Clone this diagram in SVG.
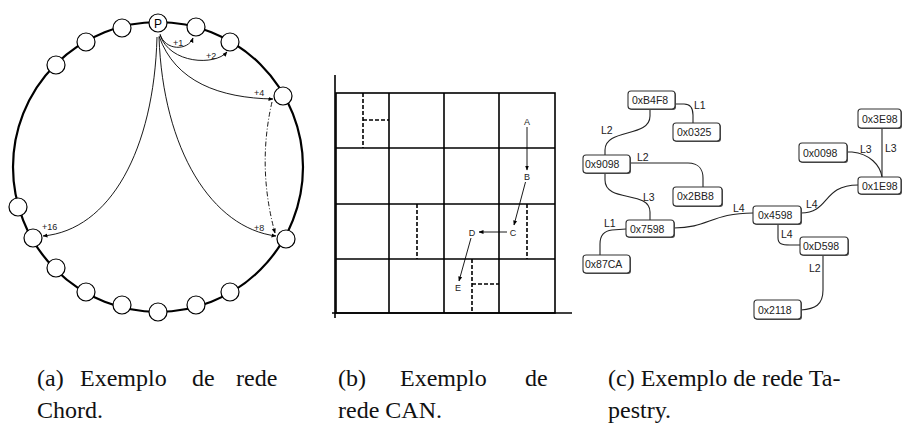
<svg xmlns="http://www.w3.org/2000/svg" width="902" height="423" viewBox="0 0 902 423">
<style>
.ring{fill:none;stroke:#000;stroke-width:2.2}
.nd{fill:#fff;stroke:#000;stroke-width:1.2}
.ar{fill:none;stroke:#000;stroke-width:0.9}
.sm{font-family:"Liberation Sans",Arial,sans-serif;font-size:9px;fill:#222}
.grid{fill:none;stroke:#000;stroke-width:1.6}
.dash{fill:none;stroke:#000;stroke-width:1.6;stroke-dasharray:4,2}
.bx{fill:#fff;stroke:#333;stroke-width:1.1}
.sh{fill:#555}
.bt{font-family:"Liberation Sans",Arial,sans-serif;font-size:10.5px;fill:#222}
.cn{fill:none;stroke:#222;stroke-width:1.1}
.cap{font-family:"Liberation Serif","Times New Roman",serif;font-size:24px;fill:#111}
</style>
<defs>
<marker id="ah" viewBox="0 0 10 10" refX="9" refY="5" markerWidth="5" markerHeight="5" orient="auto" markerUnits="userSpaceOnUse">
<path d="M0,1 L10,5 L0,9 z" fill="#000"/>
</marker>
</defs>
<rect width="902" height="423" fill="#fff"/>

<!-- (a) Chord -->
<g id="chord">
<circle class="ring" cx="158" cy="167" r="145"/>
<g id="connectors-chord">
<path class="ar" d="M160,34 C165,51 188,51 193,38" marker-end="url(#ah)"/>
<path class="ar" d="M160,35 C170,64 215,66 227,52" marker-end="url(#ah)"/>
<path class="ar" d="M159,36 C175,82 220,98 273,99" marker-end="url(#ah)"/>
<path class="ar" d="M159,37 C163,150 212,228 276,236" marker-end="url(#ah)"/>
<path class="ar" d="M157,37 C154,150 110,230 43,236" marker-end="url(#ah)"/>
<path class="ar" d="M272,102 Q257,167 275,233" stroke-dasharray="5,2,1,2" marker-end="url(#ah)"/>
</g>
<g id="n0"><circle class="nd" cx="158" cy="23" r="9"/><text x="158" y="27.5" text-anchor="middle" font-family="Liberation Sans,Arial,sans-serif" font-size="12">P</text></g>
<g id="n15"><circle class="nd" cx="196" cy="27" r="9"/></g>
<g id="n30"><circle class="nd" cx="230" cy="42" r="9"/></g>
<g id="n60"><circle class="nd" cx="283" cy="96" r="9"/></g>
<g id="n120"><circle class="nd" cx="286" cy="239" r="9"/></g>
<g id="n150"><circle class="nd" cx="230" cy="292" r="9"/></g>
<g id="n165"><circle class="nd" cx="196" cy="305" r="9"/></g>
<g id="n180"><circle class="nd" cx="158" cy="312" r="9"/></g>
<g id="n195"><circle class="nd" cx="122" cy="305" r="9"/></g>
<g id="n210"><circle class="nd" cx="86" cy="292" r="9"/></g>
<g id="n225"><circle class="nd" cx="56" cy="268" r="9"/></g>
<g id="n240"><circle class="nd" cx="33" cy="238" r="9"/></g>
<g id="n255"><circle class="nd" cx="18" cy="207" r="9"/></g>
<g id="n315"><circle class="nd" cx="56" cy="65" r="9"/></g>
<g id="n330"><circle class="nd" cx="86" cy="42" r="9"/></g>
<g id="n345"><circle class="nd" cx="122" cy="28" r="9"/></g>
<text class="sm" x="173" y="46">+1</text>
<text class="sm" x="206" y="59">+2</text>
<text class="sm" x="254" y="96">+4</text>
<text class="sm" x="254" y="231">+8</text>
<text class="sm" x="42" y="230">+16</text>
</g>

<!-- (b) CAN -->
<g id="can">
<line class="grid" x1="335" y1="75" x2="335" y2="318" stroke-width="1.3"/>
<line class="grid" x1="332" y1="313" x2="572" y2="313" stroke-width="1.3"/>
<rect class="grid" x="336" y="93" width="219" height="220"/>
<line class="grid" x1="389" y1="93" x2="389" y2="313"/>
<line class="grid" x1="444" y1="93" x2="444" y2="313"/>
<line class="grid" x1="499" y1="93" x2="499" y2="313"/>
<line class="grid" x1="336" y1="148" x2="555" y2="148"/>
<line class="grid" x1="336" y1="204" x2="555" y2="204"/>
<line class="grid" x1="336" y1="259" x2="555" y2="259"/>
<path class="dash" d="M363,93 V148 M363,120 H389"/>
<path class="dash" d="M417,204 V259"/>
<path class="dash" d="M527,204 V259"/>
<path class="dash" d="M472,259 V313 M472,284 H499"/>
<g id="connectors-can">
<line class="ar" x1="527" y1="127" x2="527" y2="170" marker-end="url(#ah)"/>
<line class="ar" x1="525.5" y1="182" x2="514" y2="225" marker-end="url(#ah)"/>
<line class="ar" x1="507" y1="232" x2="479" y2="232" marker-end="url(#ah)"/>
<line class="ar" x1="471" y1="238" x2="459" y2="281" marker-end="url(#ah)"/>
</g>
<g id="cA"><text class="sm" x="527" y="125" text-anchor="middle">A</text></g>
<g id="cB"><text class="sm" x="527" y="180" text-anchor="middle">B</text></g>
<g id="cC"><text class="sm" x="513" y="235.5" text-anchor="middle">C</text></g>
<g id="cD"><text class="sm" x="472" y="235.5" text-anchor="middle">D</text></g>
<g id="cE"><text class="sm" x="458" y="291" text-anchor="middle">E</text></g>
</g>

<!-- (c) Tapestry -->
<g id="tapestry">
<g id="connectors-tap">
<path class="cn" d="M675,104 L684,104 C690,104 693,108 693,115 L693,123"/>
<path class="cn" d="M650,110 L650,116 C650,138 605,128 605,150 L605,155"/>
<path class="cn" d="M630,163 L688,163 C699,163 703,170 703,178 L703,187"/>
<path class="cn" d="M605,173 L605,180 C605,203 650,190 650,212 L650,220"/>
<path class="cn" d="M626,229 L612,230 C603,231 600,236 600,244 L600,255"/>
<path class="cn" d="M674,228 C708,228 712,213 753,213"/>
<path class="cn" d="M801,213 C830,213 822,185 858,185"/>
<path class="cn" d="M778,224 L778,238 C778,244 782,245 790,245 L800,245"/>
<path class="cn" d="M823,255 L823,290 C823,305 815,309 801,310"/>
<path class="cn" d="M847,152 L852,152 C870,154 880,165 882,177"/>
<path class="cn" d="M882,128 L882,177"/>
</g>
<text class="bt" x="694" y="109">L1</text>
<text class="bt" x="601" y="134">L2</text>
<text class="bt" x="637" y="161">L2</text>
<text class="bt" x="643" y="201">L3</text>
<text class="bt" x="604" y="227">L1</text>
<text class="bt" x="733" y="212">L4</text>
<text class="bt" x="806" y="208">L4</text>
<text class="bt" x="781" y="238">L4</text>
<text class="bt" x="809" y="272">L2</text>
<text class="bt" x="860" y="153">L3</text>
<text class="bt" x="885" y="152">L3</text>
<g id="tB4F8"><rect class="sh" x="629" y="92" width="47" height="18" rx="3"/><rect class="bx" x="628" y="91" width="47" height="18" rx="3"/><text class="bt" x="632" y="104">0xB4F8</text></g>
<g id="t0325"><rect class="sh" x="674" y="124" width="47" height="18" rx="3"/><rect class="bx" x="673" y="123" width="47" height="18" rx="3"/><text class="bt" x="677" y="136">0x0325</text></g>
<g id="t9098"><rect class="sh" x="584" y="156" width="47" height="18" rx="3"/><rect class="bx" x="583" y="155" width="47" height="18" rx="3"/><text class="bt" x="585" y="168">0x9098</text></g>
<g id="t2BB8"><rect class="sh" x="674" y="188" width="49" height="19" rx="3"/><rect class="bx" x="673" y="187" width="49" height="19" rx="3"/><text class="bt" x="677" y="200">0x2BB8</text></g>
<g id="t7598"><rect class="sh" x="627" y="221" width="48" height="17" rx="3"/><rect class="bx" x="626" y="220" width="48" height="17" rx="3"/><text class="bt" x="630" y="232.5">0x7598</text></g>
<g id="t87CA"><rect class="sh" x="584" y="256" width="47" height="18" rx="3"/><rect class="bx" x="583" y="255" width="47" height="18" rx="3"/><text class="bt" x="585" y="268">0x87CA</text></g>
<g id="t4598"><rect class="sh" x="754" y="207" width="48" height="18" rx="3"/><rect class="bx" x="753" y="206" width="48" height="18" rx="3"/><text class="bt" x="758" y="219">0x4598</text></g>
<g id="tD598"><rect class="sh" x="801" y="238" width="48" height="18" rx="3"/><rect class="bx" x="800" y="237" width="48" height="18" rx="3"/><text class="bt" x="803" y="250">0xD598</text></g>
<g id="t2118"><rect class="sh" x="755" y="301" width="47" height="19" rx="3"/><rect class="bx" x="754" y="300" width="47" height="19" rx="3"/><text class="bt" x="758" y="313.5">0x2118</text></g>
<g id="t1E98"><rect class="sh" x="859" y="178" width="43" height="17" rx="3"/><rect class="bx" x="858" y="177" width="43" height="17" rx="3"/><text class="bt" x="862" y="189.5">0x1E98</text></g>
<g id="t0098"><rect class="sh" x="800" y="144" width="48" height="19" rx="3"/><rect class="bx" x="799" y="143" width="48" height="19" rx="3"/><text class="bt" x="803" y="156.5">0x0098</text></g>
<g id="t3E98"><rect class="sh" x="859" y="110" width="43" height="19" rx="3"/><rect class="bx" x="858" y="109" width="43" height="19" rx="3"/><text class="bt" x="862" y="122.5">0x3E98</text></g>
</g>

<!-- captions -->
<g id="captions">
<text class="cap" y="386"><tspan x="37">(a)</tspan><tspan x="80">Exemplo</tspan><tspan x="192">de</tspan><tspan x="236">rede</tspan></text>
<text class="cap" x="37" y="418">Chord.</text>
<text class="cap" y="386"><tspan x="338">(b)</tspan><tspan x="400">Exemplo</tspan><tspan x="525">de</tspan></text>
<text class="cap" x="338" y="418">rede CAN.</text>
<text class="cap" x="608" y="386">(c) Exemplo de rede Ta-</text>
<text class="cap" x="608" y="418">pestry.</text>
</g>
</svg>
